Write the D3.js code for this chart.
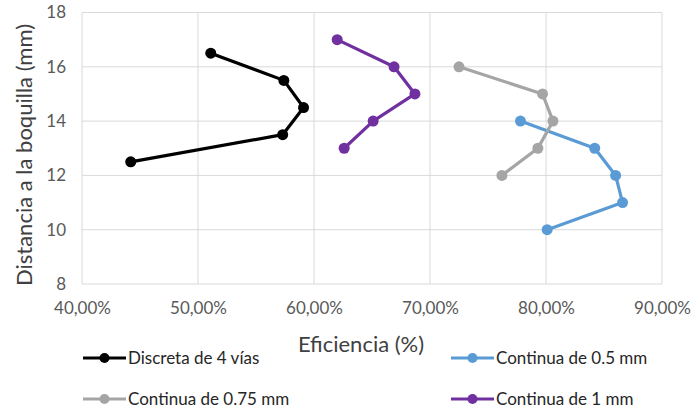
<!DOCTYPE html>
<html><head><meta charset="utf-8">
<script src="https://cdn.jsdelivr.net/npm/d3@7"></script>
<style>body{margin:0;background:#fff}svg{display:block}text{font-family:Lato,"Open Sans",sans-serif}</style>
</head><body><svg id="c" width="691" height="412"></svg>
<script>
const seriesNames = ["Discreta de 4 vías", "Continua de 0.5 mm", "Continua de 0.75 mm", "Continua de 1 mm"];
const seriesColors = ["#000000", "#5B9BD5", "#A5A5A5", "#7030A0"];
const discretaX = [0.511, 0.574, 0.591, 0.573, 0.442];
const discretaY = [16.5, 15.5, 14.5, 13.5, 12.5];
const c05X = [0.778, 0.842, 0.860, 0.866, 0.801];
const c05Y = [14, 13, 12, 11, 10];
const c075X = [0.725, 0.797, 0.806, 0.793, 0.762];
const c075Y = [16, 15, 14, 13, 12];
const c1X = [0.620, 0.669, 0.687, 0.651, 0.626];
const c1Y = [17, 16, 15, 14, 13];
const xTicks = [0.4, 0.5, 0.6, 0.7, 0.8, 0.9];
const yTicks = [8, 10, 12, 14, 16, 18];

const series = [
  {name: seriesNames[0], color: seriesColors[0], xs: discretaX, ys: discretaY},
  {name: seriesNames[1], color: seriesColors[1], xs: c05X, ys: c05Y},
  {name: seriesNames[2], color: seriesColors[2], xs: c075X, ys: c075Y},
  {name: seriesNames[3], color: seriesColors[3], xs: c1X, ys: c1Y}
];

const svg = d3.select("#c");
const x = d3.scaleLinear().domain([0.4, 0.9]).range([82, 662]);
const y = d3.scaleLinear().domain([8, 18]).range([284, 12.5]);
const fmt = v => (v * 100).toFixed(2).replace(".", ",") + "%";
const FONT = "Lato,'Open Sans',sans-serif";

svg.append("g").selectAll("line").data(yTicks).join("line")
  .attr("x1", 82).attr("x2", 662).attr("y1", d => y(d)).attr("y2", d => y(d))
  .attr("stroke", "#d9d9d9").attr("stroke-width", 1);
svg.append("g").selectAll("line").data(xTicks).join("line")
  .attr("y1", 12.5).attr("y2", 284).attr("x1", d => x(d)).attr("x2", d => x(d))
  .attr("stroke", "#d9d9d9").attr("stroke-width", 1);

const xAxis = d3.axisBottom(x).tickValues(xTicks).tickFormat(fmt).tickSize(0).tickPadding(18);
const gx = svg.append("g").attr("transform", "translate(0,284)").call(xAxis);
gx.select(".domain").remove();
gx.selectAll("text").attr("fill", "#595959").style("font-size", "17px").style("font-family", FONT);

const yAxis = d3.axisLeft(y).tickValues(yTicks).tickSize(0).tickPadding(16);
const gy = svg.append("g").attr("transform", "translate(82,0)").call(yAxis);
gy.select(".domain").remove();
gy.selectAll("text").attr("fill", "#595959").style("font-size", "17px").style("font-family", FONT);

const line = d3.line().x(d => x(d[0])).y(d => y(d[1]));
series.forEach(s => {
  const pts = s.xs.map((v, i) => [v, s.ys[i]]);
  svg.append("path").attr("d", line(pts)).attr("fill", "none")
    .attr("stroke", s.color).attr("stroke-width", 3.2).attr("stroke-linejoin", "round");
  svg.append("g").selectAll("circle").data(pts).join("circle")
    .attr("cx", d => x(d[0])).attr("cy", d => y(d[1])).attr("r", 5.5).attr("fill", s.color);
});

svg.append("text").attr("x", 361).attr("y", 352).attr("text-anchor", "middle")
  .attr("fill", "#404040").style("font-size", "22px").text("Eficiencia (%)");
svg.append("text").attr("transform", "translate(32,155) rotate(-90)").attr("text-anchor", "middle")
  .attr("fill", "#404040").style("font-size", "22px").text("Distancia a la boquilla (mm)");

const legPos = [[83, 358], [451, 358], [83, 399], [451, 399]];
series.forEach((s, i) => {
  const [lx, ly] = legPos[i];
  const g = svg.append("g").attr("transform", `translate(${lx},${ly})`);
  g.append("line").attr("x1", 0).attr("x2", 43).attr("y1", 0).attr("y2", 0)
    .attr("stroke", s.color).attr("stroke-width", 3.2);
  g.append("circle").attr("cx", 21.5).attr("cy", 0).attr("r", 5).attr("fill", s.color);
  g.append("text").attr("x", 45).attr("y", 6).attr("fill", "#262626")
    .style("font-size", "17px").text(s.name);
});
</script></body></html>
